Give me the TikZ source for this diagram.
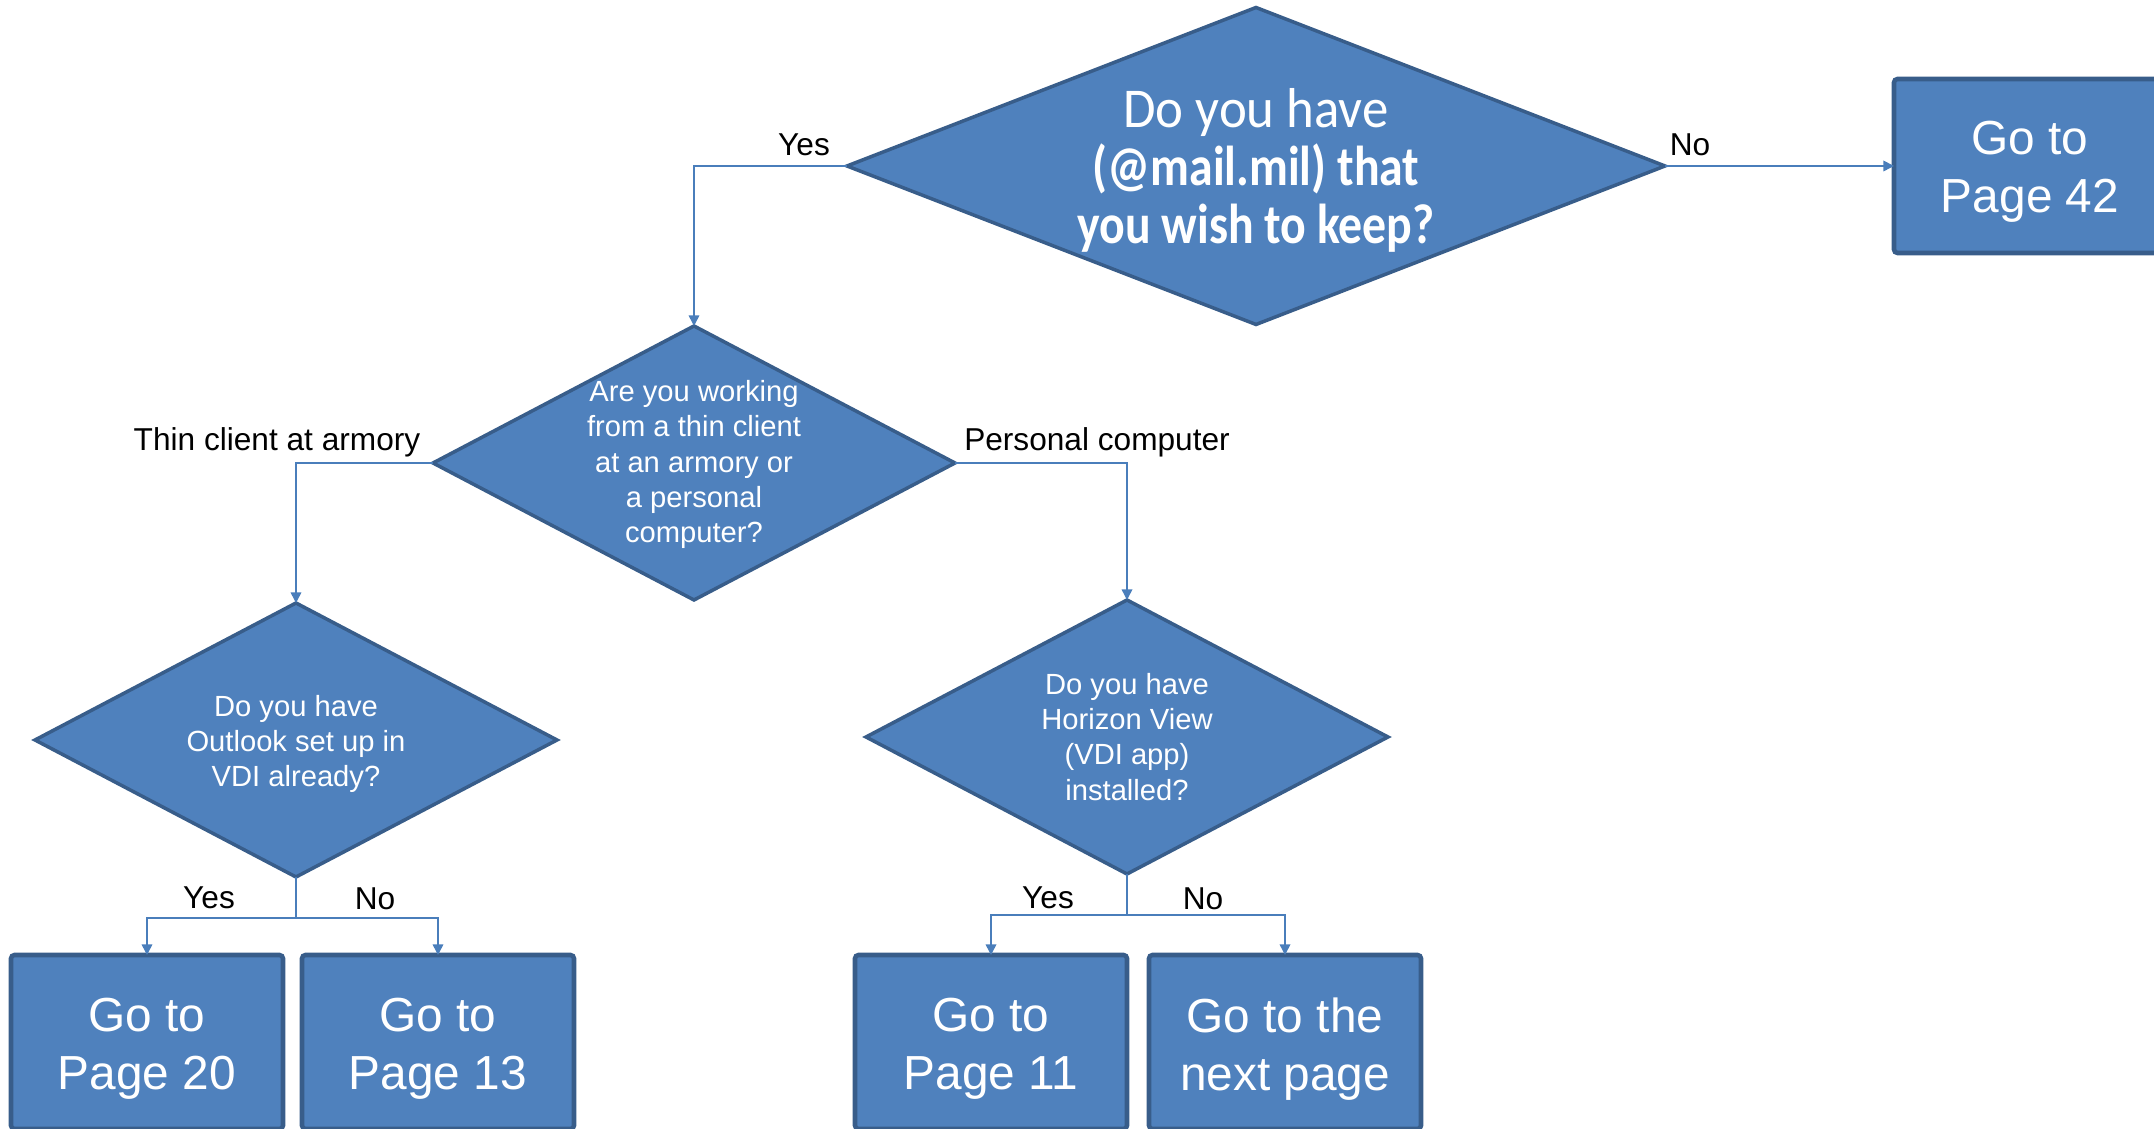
\documentclass[tikz,border=0pt]{standalone}
\usepackage{fontspec}
\setmainfont{Liberation Sans}
\newfontfamily\calfont[FakeStretch=0.94]{Carlito}
\newfontfamily\calnarrow[FakeStretch=0.85]{Carlito}
\usetikzlibrary{shapes.geometric,arrows.meta}
\definecolor{boxblue}{HTML}{4F81BD}
\definecolor{rimblue}{HTML}{385D8A}
\definecolor{lineblue}{HTML}{4A7EBB}
\newcommand{\qfont}{\fontsize{8.3}{10}\selectfont}
\newcommand{\labfont}{\fontsize{9}{11}\selectfont}
\newcommand{\gofont}{\fontsize{13.6}{16.5}\selectfont}
\tikzset{
	decision/.style={diamond,draw=rimblue,fill=boxblue,line width=1pt,inner sep=0pt,outer sep=0pt,minimum width=52.2mm,minimum height=27.4mm},
	gobox/.style={rectangle,draw=rimblue,fill=boxblue,line width=1.3pt,rounded corners=1pt,outer sep=0pt,minimum width=27.2mm,minimum height=17.4mm},
	gotext/.style={text=white,align=center,font=\gofont,inner sep=0pt},
	qtext/.style={text=white,align=center,font=\qfont,inner sep=0pt},
	flow/.style={draw=lineblue,line width=0.45pt,-{Triangle[length=3pt,width=3pt]}},
	choice/.style={font=\labfont,inner sep=0pt}
}
\begin{document}
\begin{tikzpicture}[x=0.1mm,y=-0.1mm]
	\useasboundingbox (0,0) rectangle (2154,1129);

	\node[decision,minimum width=81.8mm,minimum height=31.7mm] (q1) at (1256,166) {};
	\node[qtext,font=\calfont\fontsize{16}{16.5}\selectfont] (q1t) at ([yshift=-0.4mm]q1) {Do you have\\{\calnarrow\bfseries (@mail.mil) that}\\{\calnarrow\bfseries you wish to keep?}};
	\node[gobox] (b42) at (2030,166) {};
	\node[gotext] (b42t) at ([yshift=-0.55mm]b42) {Go to\\Page 42};

	\node[decision] (q2) at (694,463) {};
	\node[qtext] (q2t) at ([yshift=-0.15mm]q2) {Are you working\\from a thin client\\at an armory or\\a personal\\computer?};

	\node[decision] (q3) at (296,740) {};
	\node[qtext] (q3t) at ([yshift=-0.4mm]q3) {Do you have\\Outlook set up in\\VDI already?};
	\node[decision] (q4) at (1127,737) {};
	\node[qtext] (q4t) at (q4) {Do you have\\Horizon View\\(VDI app)\\installed?};

	\node[gobox] (b20) at (147,1042) {};
	\node[gotext] (b20t) at ([yshift=-0.7mm]b20) {Go to\\Page 20};
	\node[gobox] (b13) at (438,1042) {};
	\node[gotext] (b13t) at ([yshift=-0.7mm]b13) {Go to\\Page 13};
	\node[gobox] (b11) at (991,1042) {};
	\node[gotext] (b11t) at ([yshift=-0.7mm]b11) {Go to\\Page 11};
	\node[gobox] (bnext) at (1285,1042) {};
	\node[gotext] (bnextt) at ([yshift=-0.7mm]bnext) {Go to the\\next page};

	% connectors
	\draw[flow] (q1.east) -- (b42.west);
	\draw[flow] (q1.west) -| (q2.north);
	\draw[flow] (q2.west) -| (q3.north);
	\draw[flow] (q2.east) -| (q4.north);
	\coordinate (j3) at (296,918);
	\coordinate (j4) at (1127,915);
	\draw[flow] (q3.south) -- (j3) -| (b20.north);
	\draw[flow] (j3) -| (b13.north);
	\draw[flow] (q4.south) -- (j4) -| (b11.north);
	\draw[flow] (j4) -| (bnext.north);

	% labels
	\node[choice] (yes1) at (804,145) {Yes};
	\node[choice] (no1) at (1690,145) {No};
	\node[choice] (thin) at (277,442) {Thin client at armory};
	\node[choice] (pers) at (1097,442) {Personal computer};
	\node[choice] (yes3) at (209,898) {Yes};
	\node[choice] (no3) at (375,899) {No};
	\node[choice] (yes4) at (1048,898) {Yes};
	\node[choice] (no4) at (1203,899) {No};
\end{tikzpicture}
\end{document}
